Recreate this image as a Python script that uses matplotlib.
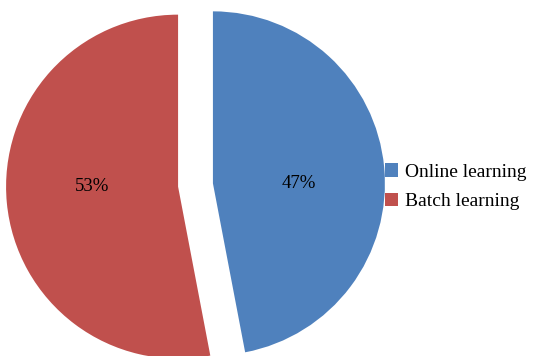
import matplotlib.pyplot as plt

labels = ["Online learning", "Batch learning"]
shares = [47, 53]
colors = ["#4F81BD", "#C0504D"]

plt.rcParams["font.family"] = ["Liberation Serif", "DejaVu Serif"]

fig = plt.figure(figsize=(5.33, 3.56), dpi=100)
ax = fig.add_axes([0, 0, 1, 1])

# axes in pixel units, so explode is an offset in pixels too
radius = 172
wedges, _, autotexts = ax.pie(
    shares, colors=colors, explode=[17.5, 17.5], startangle=90, counterclock=False,
    radius=radius, center=(195.5, 171), pctdistance=0.5,
    autopct=lambda p: f"{round(p):d}%",
    textprops={"fontsize": 13.5, "color": "black"},
)
# keep each percentage level with its slice's centre
for w, t in zip(wedges, autotexts):
    t.set_y(w.center[1])

ax.set_xlim(0, 533)
ax.set_ylim(0, 356)
ax.set_aspect("equal")
ax.axis("off")

fig.legend(wedges, labels, loc="center left", bbox_to_anchor=(0.722, 0.475),
           frameon=False, fontsize=14, handlelength=0.7, handleheight=0.7,
           handletextpad=0.35, labelspacing=0.6, borderpad=0, borderaxespad=0)

fig.savefig("out.png", dpi=100)
